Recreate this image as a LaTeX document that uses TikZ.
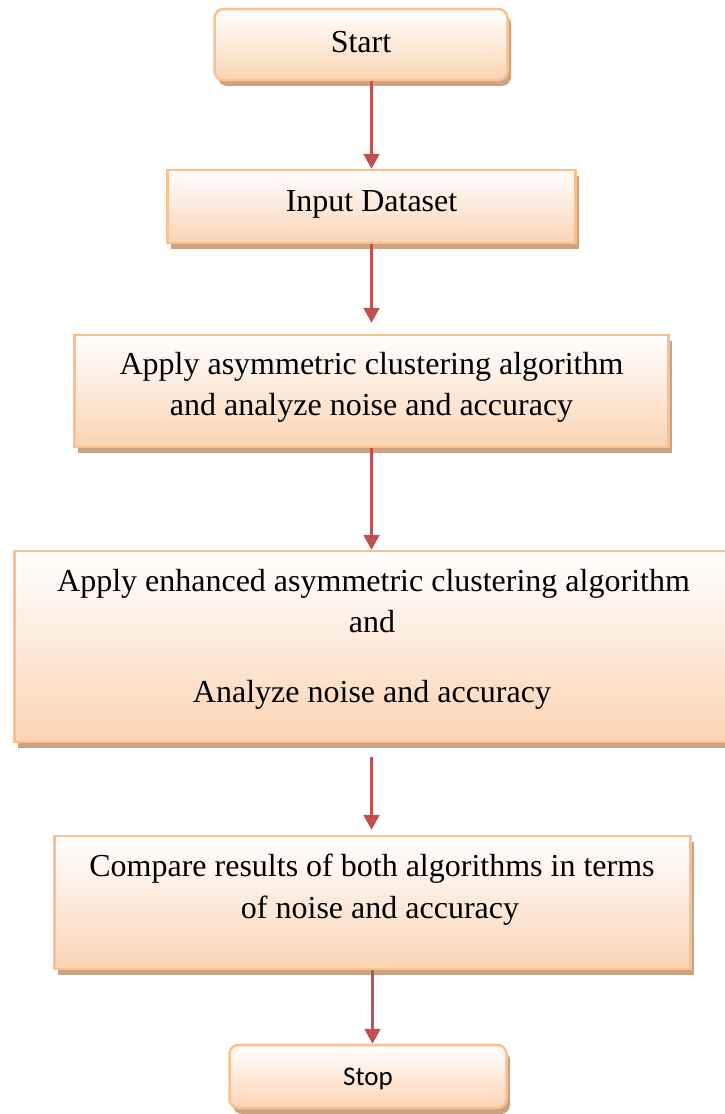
\documentclass[tikz,border=0pt]{standalone}
\usepackage{fontspec}
\setmainfont{Liberation Serif}
\newfontfamily\calibri{Carlito}
\usetikzlibrary{shadows,arrows.meta}
\definecolor{boxedge}{HTML}{FAC08F}
\definecolor{boxtop}{HTML}{FFFFFF}
\definecolor{boxbottom}{HTML}{FBD4B4}
\definecolor{boxshade}{HTML}{CBA282}
\definecolor{flow}{HTML}{C0504D}
\begin{document}
\begin{tikzpicture}[x=1pt,y=-1pt,
  stepbox/.style={draw=boxedge, line width=2.5pt, top color=boxtop, bottom color=boxbottom,
    general shadow={fill=boxshade, shadow xshift=3.5pt, shadow yshift=-6pt},
    inner sep=0pt, rectangle},
  roundbox/.style={stepbox, rounded corners=9pt},
  txt/.style={anchor=base, inner sep=0pt, font=\fontsize{32}{40}\selectfont},
  smalltxt/.style={anchor=base, inner sep=0pt, font=\calibri\fontsize{27}{32}\selectfont},
  flowarrow/.style={draw=flow, line width=2.5pt, -{Triangle[width=16pt,length=15pt]}}]
\useasboundingbox (0,0) rectangle (725,1114);

% boxes
\node[roundbox, minimum width=293pt, minimum height=71pt] (start) at (361,44.5) {};
\node[stepbox, minimum width=408pt, minimum height=73pt] (input) at (371.5,206.5) {};
\node[stepbox, minimum width=594pt, minimum height=112pt] (plain) at (371.5,391) {};
\node[stepbox, minimum width=714pt, minimum height=191pt] (enh) at (371.5,646.5) {};
\node[stepbox, minimum width=636pt, minimum height=133pt] (cmp) at (372.5,902.5) {};
\node[roundbox, minimum width=277pt, minimum height=63pt] (stop) at (368,1076.5) {};

% labels
\node[txt] (tstart) at (361,52) {Start};
\node[txt] (tinput) at (371.5,211) {Input Dataset};
\node[txt] (tplain1) at (371.5,374) {Apply asymmetric clustering algorithm};
\node[txt] (tplain2) at (371.5,415) {and analyze noise and accuracy};
\node[txt] (tenh1) at (373.5,591) {Apply enhanced asymmetric clustering algorithm};
\node[txt] (tenh2) at (372,632) {and};
\node[txt] (tenh3) at (372,702) {Analyze noise and accuracy};
\node[txt] (tcmp1) at (372,876) {Compare results of both algorithms in terms};
\node[txt] (tcmp2) at (380,918) {of noise and accuracy};
\node[smalltxt] (tstop) at (368,1085) {Stop};

% connectors
\draw[flowarrow] (start.south -| input.north) -- (input.north);
\draw[flowarrow, shorten >=11pt] (input.south) -- (plain.north);
\draw[flowarrow] (plain.south) -- (enh.north);
\draw[flowarrow, shorten <=14pt, shorten >=5pt] (enh.south) -- (enh.south |- cmp.north);
\draw[flowarrow] (cmp.south) -- (cmp.south |- stop.north);
\end{tikzpicture}
\end{document}
